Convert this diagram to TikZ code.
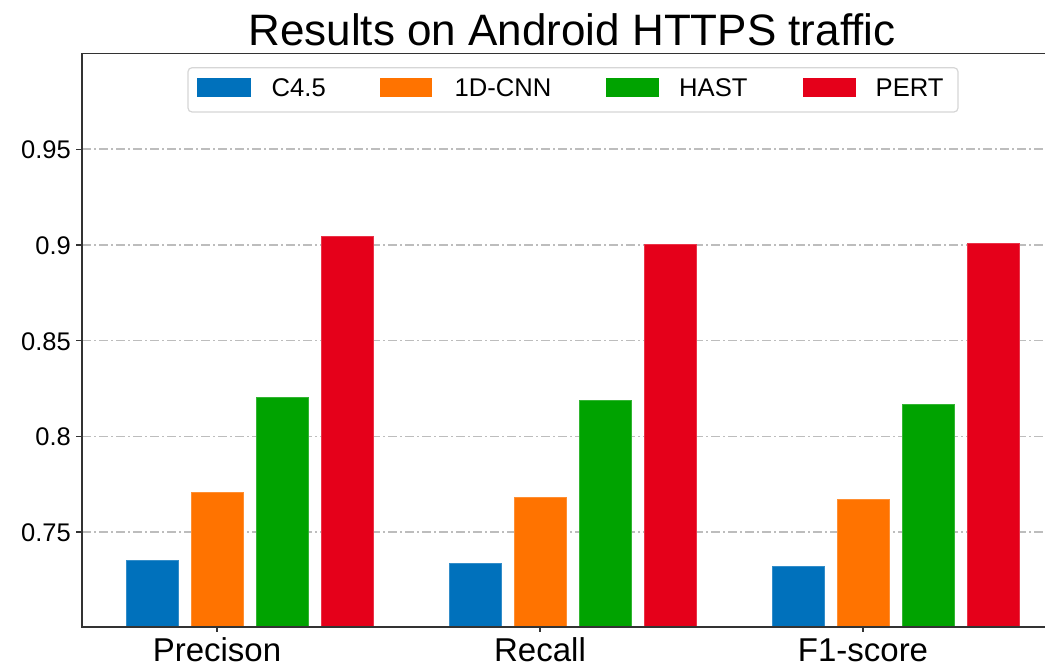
\documentclass[tikz,border=0pt]{standalone}
\usepackage{fontspec}
\setmainfont{Liberation Sans}
\definecolor{cblue}{HTML}{0071BC}
\definecolor{corange}{HTML}{FF7300}
\definecolor{cgreen}{HTML}{00A300}
\definecolor{cred}{HTML}{E5001A}
\definecolor{gridgray}{HTML}{BDBDBD}
\definecolor{leggray}{HTML}{D6D6D6}
\begin{document}
\begin{tikzpicture}[x=1pt,y=-1pt,
  declare function={yv(\v)=532-(\v-0.75)*1914;},
  gridline/.style={draw=gridgray, line width=1.5pt, dash pattern=on 9pt off 3pt on 2pt off 3pt},
  spine/.style={draw=black!80, line width=1.4pt},
  tickmark/.style={draw=black!80, line width=1.2pt},
  ticklab/.style={font=\fontsize{25.5}{30}\selectfont, inner sep=0pt, anchor=base east},
  catlab/.style={font=\fontsize{33}{40}\selectfont, inner sep=0pt, anchor=base},
  leglab/.style={font=\fontsize{25.6}{30}\selectfont, inner sep=0pt, anchor=base west},
  legbox/.style={draw=leggray, line width=1.2pt, fill=white, rounded corners=4pt},
  barshape/.style={fill=#1, draw=#1!80!white, line width=0.5pt},
  ]
\useasboundingbox (0,0) rectangle (1045,668);

% title
\node[font=\fontsize{44}{50}\selectfont, inner sep=0pt, anchor=base] (title) at (572,46) {Results on Android HTTPS traffic};

% grid lines and y ticks
\foreach \v/\lab/\nm in {0.75/0.75/t75, 0.8/0.8/t80, 0.85/0.85/t85, 0.9/0.9/t90, 0.95/0.95/t95}{
  \coordinate (\nm-a) at (82,{yv(\v)});
  \coordinate (\nm-b) at (1045,{yv(\v)});
  \coordinate (\nm-c) at (76,{yv(\v)});
  \draw[gridline] (\nm-a) -- (\nm-b);
  \draw[tickmark] (\nm-c) -- (\nm-a);
  \node[ticklab] (\nm) at (71,{yv(\v)+9.5}) {\lab};
}

% bars
\foreach \c/\a/\b/\g/\r in {217/0.7354/0.7709/0.8202/0.9043, 540/0.7336/0.7684/0.8188/0.9003, 863/0.7322/0.7671/0.8167/0.9006}{
  \draw[barshape=cblue]   ({\c-90.75},627) rectangle ({\c-39.25},{yv(\a)});
  \draw[barshape=corange] ({\c-25.75},627) rectangle ({\c+25.75},{yv(\b)});
  \draw[barshape=cgreen]  ({\c+39.25},627) rectangle ({\c+90.75},{yv(\g)});
  \draw[barshape=cred]    ({\c+104.25},627) rectangle ({\c+155.75},{yv(\r)});
}

% spines
\coordinate (tl) at (82,53.5);
\coordinate (tr) at (1045,53.5);
\coordinate (bl) at (82,627);
\coordinate (br) at (1045,627);
\draw[spine] (tr) -- (tl) -- (bl) -- (br);

% x ticks and category labels
\foreach \c/\lab/\nm in {217/Precison/cP, 540/Recall/cR, 863/F1-score/cF}{
  \coordinate (\nm-a) at (\c,627);
  \coordinate (\nm-b) at (\c,632);
  \draw[tickmark] (\nm-a) -- (\nm-b);
  \node[catlab] (\nm) at (\c,661) {\lab};
}

% legend
\draw[legbox] (188,67.7) rectangle (958,112);
\fill[cblue]   (197.3,78.3) rectangle (250.7,96.7);
\fill[corange] (380,78.3) rectangle (432.3,96.7);
\fill[cgreen]  (606,78.3) rectangle (659.3,96.7);
\fill[cred]    (802.7,78.3) rectangle (855.7,96.7);
\node[leglab] (lC) at (271.5,96.5) {C4.5};
\node[leglab] (l1) at (454.5,96.5) {1D-CNN};
\node[leglab] (lH) at (679,96.5) {HAST};
\node[leglab] (lP) at (875.5,96.5) {PERT};
\end{tikzpicture}
\end{document}
